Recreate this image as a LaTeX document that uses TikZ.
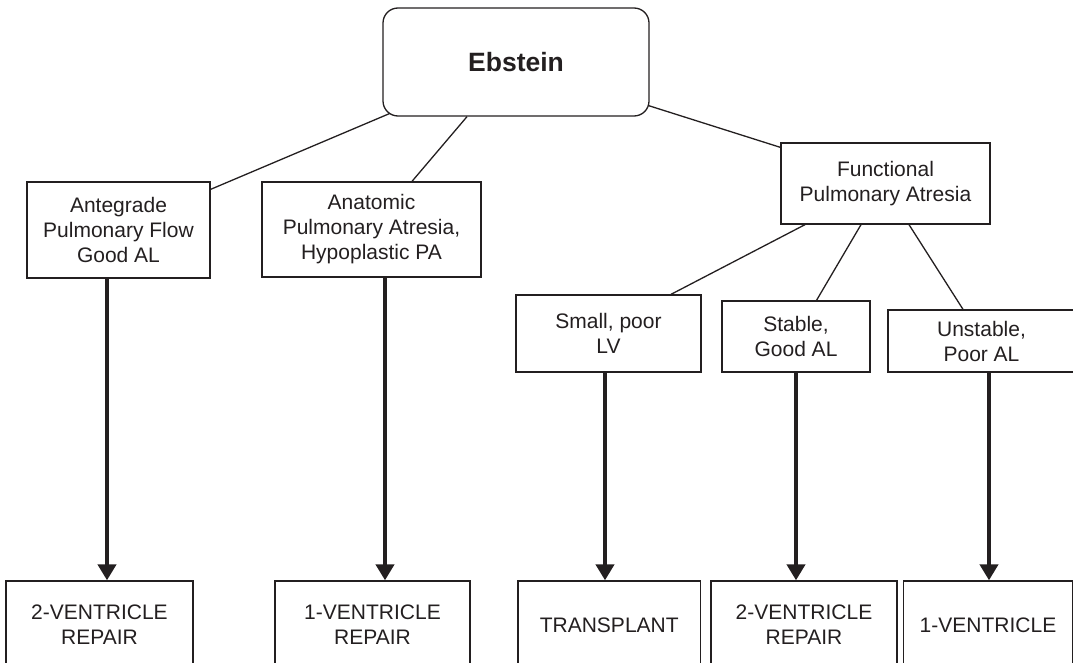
\documentclass[tikz,border=0pt]{standalone}
\usepackage{fontspec}
\setmainfont{Liberation Sans}
\usetikzlibrary{arrows.meta}
\definecolor{ink}{RGB}{35,31,32}
\begin{document}
\begin{tikzpicture}[x=1pt,y=-1pt,
  box/.style={draw=ink,line width=1.3pt,rectangle,inner sep=0pt,align=center,text=ink,font=\fontsize{21}{25}\selectfont},
  link/.style={draw=ink,line width=1.3pt},
  arr/.style={draw=ink,line width=4pt,-{Triangle[width=18pt,length=16pt]}}]
\useasboundingbox (0,0) rectangle (1073,663);
\clip (0,0) rectangle (1073,663);
% top
\node[box,rounded corners=15pt,minimum width=266pt,minimum height=108pt,font=\bfseries\fontsize{26.5}{30}\selectfont] (ebs) at (516,62) {Ebstein};
% second level
\node[box,minimum width=183pt,minimum height=96pt] (ant) at (118.5,230) {Antegrade\\Pulmonary Flow\\Good AL};
\node[box,minimum width=219pt,minimum height=95pt] (anat) at (371.5,229.5) {Anatomic\\Pulmonary Atresia,\\Hypoplastic PA};
\node[box,minimum width=209pt,minimum height=81pt] (fun) at (885.5,183.5) {Functional\\Pulmonary Atresia};
% third level
\node[box,minimum width=185pt,minimum height=77pt] (small) at (608.5,333.5) {Small, poor\\LV};
\node[box,minimum width=148pt,minimum height=71pt] (stab) at (796,336.5) {Stable,\\Good AL};
\node[box,minimum width=187pt,minimum height=62pt] (unst) at (981.5,341) {Unstable,\\Poor AL};
% outcomes
\node[box,minimum width=187pt,minimum height=88pt] (r1) at (99.5,625) {2-VENTRICLE\\REPAIR};
\node[box,minimum width=195pt,minimum height=88pt] (r2) at (372.5,625) {1-VENTRICLE\\REPAIR};
\node[box,minimum width=182.5pt,minimum height=88pt] (r3) at (609.25,625) {TRANSPLANT};
\node[box,minimum width=186pt,minimum height=88pt] (r4) at (804,625) {2-VENTRICLE\\REPAIR};
\node[box,minimum width=169pt,minimum height=88pt] (r5) at (988,625) {1-VENTRICLE};
% links
\draw[link] ([shift={(7,-3)}]ebs.south west) -- ([shift={(0,8)}]ant.north east);
\draw[link] ([shift={(-49,0)}]ebs.south) -- ([shift={(40.5,0)}]anat.north);
\draw[link] ([shift={(-1,-11)}]ebs.south east) -- ([shift={(0,5)}]fun.north west);
\draw[link] ([shift={(-80.5,0)}]fun.south) -- ([shift={(62.5,0)}]small.north);
\draw[link] ([shift={(-24.5,0)}]fun.south) -- ([shift={(20.5,0)}]stab.north);
\draw[link] ([shift={(23.5,0)}]fun.south) -- ([shift={(-18.5,0)}]unst.north);
% arrows
\draw[arr] ([xshift=-11.5pt]ant.south) -- ([xshift=7.5pt]r1.north);
\draw[arr] ([xshift=13.5pt]anat.south) -- ([xshift=12.5pt]r2.north);
\draw[arr] ([xshift=-3.5pt]small.south) -- ([xshift=-4.25pt]r3.north);
\draw[arr] (stab.south) -- ([xshift=-8pt]r4.north);
\draw[arr] ([xshift=7.5pt]unst.south) -- ([xshift=1pt]r5.north);
\end{tikzpicture}
\end{document}
